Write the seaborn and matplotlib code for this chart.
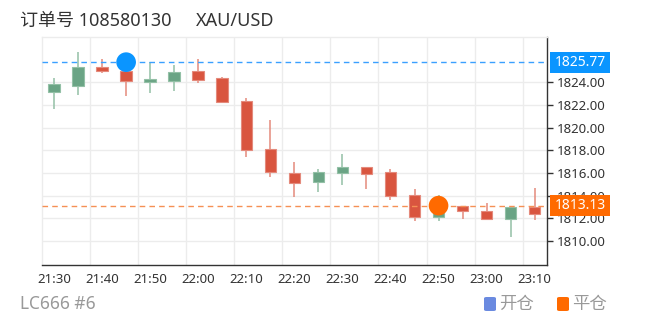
import numpy as np
import pandas as pd
import matplotlib
matplotlib.use("Agg")
import matplotlib.pyplot as plt
import seaborn as sns
from matplotlib.patches import FancyBboxPatch, Rectangle

# ---------------- data ----------------
times = ["21:30", "21:35", "21:40", "21:45", "21:50", "21:55", "22:00", "22:05",
         "22:10", "22:15", "22:20", "22:25", "22:30", "22:35", "22:40", "22:45",
         "22:50", "22:55", "23:00", "23:05", "23:10"]
opens = [1823.17, 1823.70, 1825.37, 1825.02, 1824.05, 1824.14, 1824.99, 1824.35,
         1822.35, 1818.10, 1815.98, 1815.22, 1815.98, 1816.54, 1816.07, 1814.07,
         1812.16, 1813.10, 1812.69, 1811.96, 1812.99]
closes = [1823.85, 1825.37, 1824.99, 1824.11, 1824.26, 1824.93, 1824.20, 1822.26,
          1818.01, 1816.12, 1815.15, 1816.07, 1816.54, 1815.95, 1814.00, 1812.16,
          1812.90, 1812.63, 1811.93, 1812.99, 1812.40]
lows = [1821.62, 1822.91, 1824.79, 1822.79, 1823.03, 1823.26, 1823.91, 1822.20,
        1817.44, 1815.68, 1813.87, 1814.31, 1814.98, 1814.60, 1813.63, 1811.78,
        1811.78, 1811.98, 1811.93, 1810.34, 1811.87]
highs = [1824.35, 1826.67, 1826.05, 1825.80, 1825.76, 1825.52, 1826.05, 1824.49,
         1822.59, 1820.68, 1816.95, 1816.36, 1817.68, 1816.54, 1816.36, 1814.57,
         1814.10, 1813.10, 1813.39, 1812.99, 1814.71]

open_time = "21:45"
open_price = 1825.77
close_time = "22:50"
close_price = 1813.13

ytick_values = [1810, 1812, 1814, 1816, 1818, 1820, 1822, 1824]
xtick_labels = ["21:30", "21:40", "21:50", "22:00", "22:10", "22:20",
                "22:30", "22:40", "22:50", "23:00", "23:10"]

title_order = "订单号 108580130"
title_symbol = "XAU/USD"
footer_text = "LC666 #6"
legend_labels = ["开仓", "平仓"]

# ---------------- style ----------------
sns.set_theme(style="white")
plt.rcParams["font.family"] = ["Noto Sans", "Noto Sans CJK SC", "DejaVu Sans"]

UP = "#6aa485"
DOWN = "#d9553f"
UP_W = "#93c0a6"
DOWN_W = "#e48a7c"
BLUE = "#0a95ff"
ORANGE = "#ff6a00"
LEG_BLUE = "#6a8ae0"
AX = "#333333"
GRID = "#ececec"

df = pd.DataFrame({"time": times, "open": opens, "close": closes,
                   "low": lows, "high": highs})
df["idx"] = np.arange(len(df))
df["up"] = df["close"] >= df["open"]

fig = plt.figure(figsize=(6.52, 3.25), dpi=100)
W, H = 652, 325
left, right, top, bottom = 42, 546.7, 37.3, 265
ax = fig.add_axes([left / W, 1 - bottom / H, (right - left) / W, (bottom - top) / H])

ax.set_xlim(-0.5, len(df) - 0.5)
ax.set_ylim(1807.9, 1827.96)

# grid
for y in ytick_values:
    ax.axhline(y, color=GRID, lw=1, zorder=0)
for gx in np.arange(1.5, len(df) - 0.5, 2):
    ax.axvline(gx, color=GRID, lw=1, zorder=0)

# candles
for _, r in df.iterrows():
    wc = UP_W if r["up"] else DOWN_W
    bc = UP if r["up"] else DOWN
    ax.vlines(r["idx"], r["low"], r["high"], color=wc, lw=1.1, zorder=2)
    lo = min(r["open"], r["close"])
    hgt = max(abs(r["close"] - r["open"]), 0.12)
    ax.bar(r["idx"], hgt, bottom=lo, width=0.48, color=bc, edgecolor=wc,
           linewidth=0.8, zorder=3)

# price lines
ax.axhline(open_price, color="#3aa0ff", lw=1, ls=(0, (4, 3)), zorder=4)
ax.axhline(close_price, color="#f59055", lw=1, ls=(0, (4, 3)), zorder=4)

# markers
mk = pd.DataFrame({"x": [times.index(open_time), times.index(close_time)],
                   "y": [open_price, close_price],
                   "kind": legend_labels})
sns.scatterplot(data=mk, x="x", y="y", hue="kind",
                palette={legend_labels[0]: BLUE, legend_labels[1]: ORANGE},
                s=200, edgecolor="none", legend=False, ax=ax, zorder=6)
ax.set_xlabel("")
ax.set_ylabel("")

# spines
for s in ["left", "top"]:
    ax.spines[s].set_color(GRID)
    ax.spines[s].set_linewidth(1)
for s in ["right", "bottom"]:
    ax.spines[s].set_color(AX)
    ax.spines[s].set_linewidth(1)

ax.yaxis.tick_right()
ax.set_yticks(ytick_values)
ax.set_yticklabels([f"{v:.2f}" for v in ytick_values])
ax.set_xticks([times.index(t) for t in xtick_labels])
ax.set_xticklabels(xtick_labels)
ax.tick_params(axis="both", colors=AX, labelcolor=AX, labelsize=9.5, length=4,
               width=1, direction="out")
ax.tick_params(axis="y", pad=3)
ax.tick_params(axis="x", pad=2)

# price boxes on right axis
for price, col in [(open_price, BLUE), (close_price, ORANGE)]:
    ypix = ax.transData.transform((0, price))[1]
    fig.patches.append(Rectangle((550 / W, (ypix - 10.5) / H), 60 / W, 21 / H,
                                 transform=fig.transFigure, fc=col, ec="none",
                                 zorder=10))
    fig.text(580 / W, ypix / H, f"{price:.2f}", color="white", fontsize=10,
             ha="center", va="center", zorder=11)

# title & footer
fig.text(20 / W, 1 - 21 / H, title_order, fontsize=13, color="#333333",
         ha="left", va="center")
fig.text(196 / W, 1 - 21 / H, title_symbol, fontsize=13, color="#333333",
         ha="left", va="center")
fig.text(20 / W, 1 - 304 / H, footer_text, fontsize=12.5, color="#999999",
         ha="left", va="center")

# legend
for sx, col, lab in [(484, LEG_BLUE, legend_labels[0]), (557, ORANGE, legend_labels[1])]:
    fig.patches.append(FancyBboxPatch((sx / W, 1 - 311 / H), 12 / W, 14 / H,
                                      boxstyle="round,pad=0,rounding_size=0.004",
                                      transform=fig.transFigure, fc=col, ec="none"))
    fig.text((sx + 15) / W, 1 - 304 / H, lab, fontsize=12.5, color="#999999",
             ha="left", va="center")

fig.savefig("out.png", dpi=100)
